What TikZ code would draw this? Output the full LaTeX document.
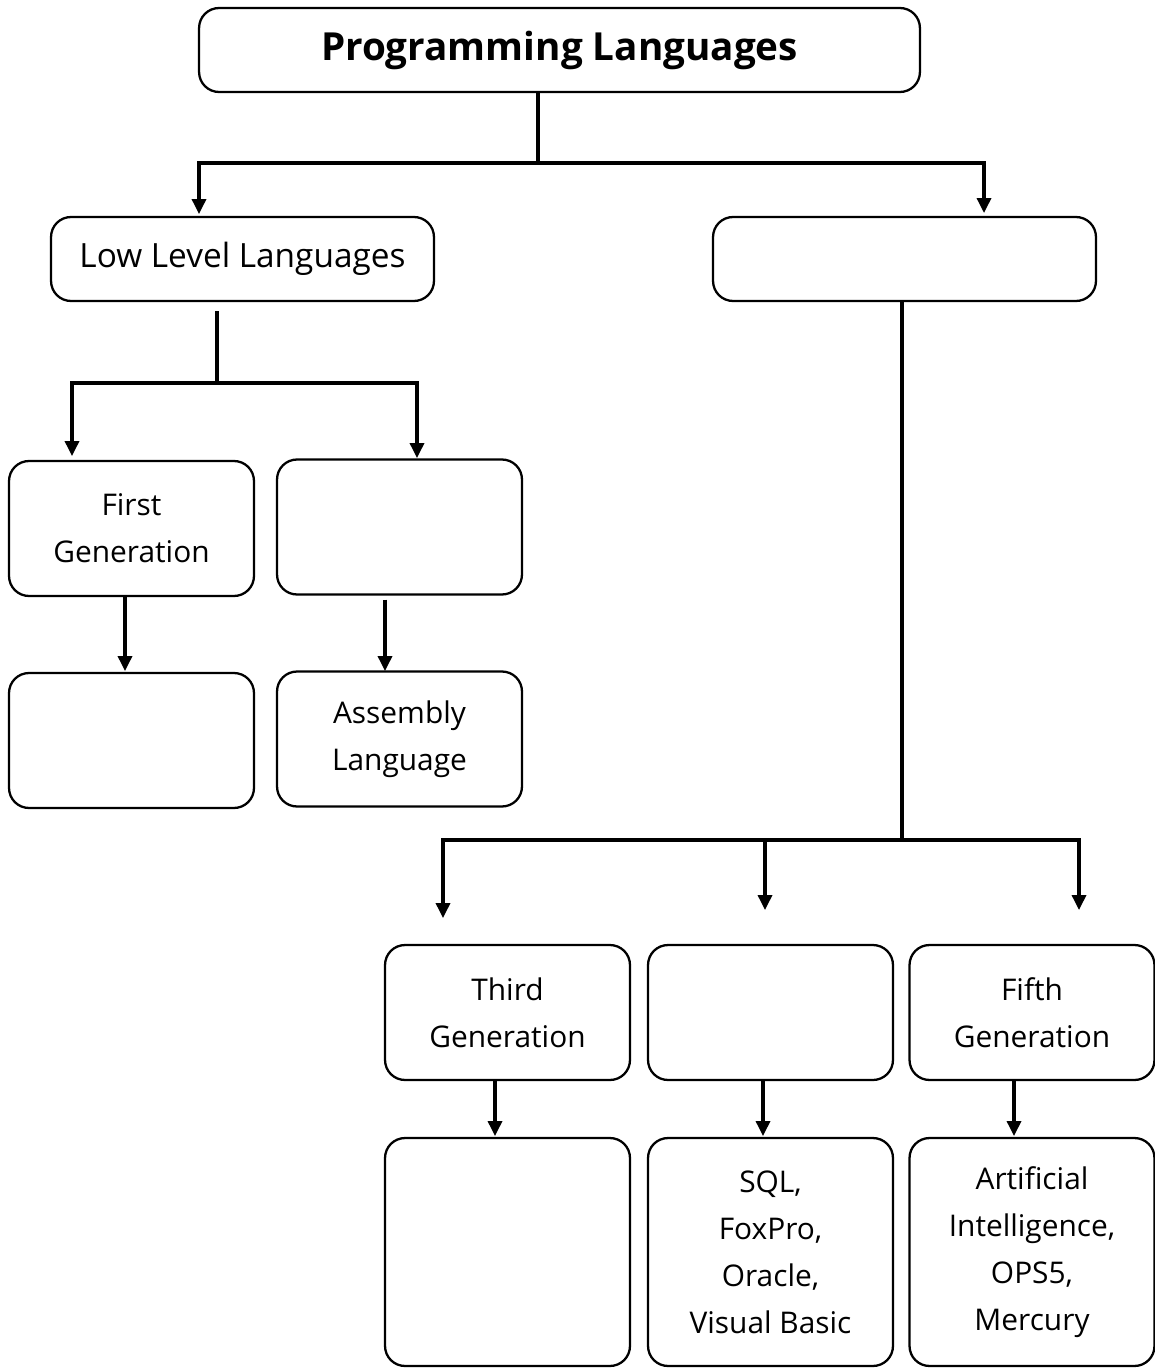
\documentclass[tikz,border=0pt]{standalone}
\usepackage{fontspec}
\setmainfont{Open Sans}
\usepackage{tikz}
\usetikzlibrary{arrows.meta,positioning,calc}

\begin{document}
\begin{tikzpicture}[x=0.02cm, y=-0.02cm,
  box/.style={draw, rounded corners=0.4cm, line width=1.3pt, align=center, inner sep=0pt,
    font=\fontsize{17}{26.7}\selectfont},
  wide/.style={box, minimum width=7.66cm, minimum height=1.68cm, font=\fontsize{19}{22}\selectfont},
  gen/.style={box, minimum width=4.9cm, minimum height=2.7cm},
  lang/.style={box, minimum width=4.9cm, minimum height=4.56cm},
  conn/.style={line width=1.8pt},
  arr/.style={conn, -{Triangle[length=8.5pt,width=8pt]}}]
\useasboundingbox (0,0) rectangle (1154,1368);
% top level
\node[box, minimum width=14.42cm, minimum height=1.68cm,
  font=\fontsize{22}{26}\selectfont\bfseries] (root) at (559.5,50) {Programming Languages};
\node[wide] (low) at (242.5,259) {Low Level Languages};
\node[wide] (high) at (904.5,259) {};
% low level branch
\node[gen] (first) at (131.5,528.5) {First\\Generation};
\node[gen] (second) at (399.5,527) {};
\node[gen] (machine) at (131.5,740.5) {};
\node[gen] (assembly) at (399.5,739) {Assembly\\Language};
% high level branch
\node[gen] (third) at (507.5,1012.5) {Third\\Generation};
\node[gen] (fourth) at (770.5,1012.5) {};
\node[gen] (fifth) at (1032,1012.5) {Fifth\\Generation};
\node[lang] (thirdlang) at (507.5,1252) {};
\node[lang] (fourthlang) at (770.5,1252) {SQL,\\FoxPro,\\Oracle,\\Visual Basic};
\node[lang] (fifthlang) at (1032,1252) {Artificial\\Intelligence,\\OPS5,\\Mercury};
% root split
\coordinate (r0) at (538,163);
\coordinate (r1) at (199,214);
\coordinate (r2) at (984,213);
\draw[conn] (root.south -| r0) -- (r0);
\draw[arr] (r0) -| (r1);
\draw[arr] (r0) -| (r2);
% low level split
\coordinate (l0) at (217,383);
\coordinate (l1) at (72,456);
\coordinate (l2) at (417,458);
\draw[conn] ([yshift=-0.18cm]low.south -| l0) -- (l0);
\draw[arr] (l0) -| (l1);
\draw[arr] (l0) -| (l2);
\coordinate (f1) at (125,671);
\coordinate (f2) at (385,671);
\draw[arr] (first.south -| f1) -- (f1);
\draw[arr] ([yshift=-0.08cm]second.south -| f2) -- (f2);
% high level split
\coordinate (h0) at (902,840);
\coordinate (h1) at (443,918);
\coordinate (h2) at (765,910);
\coordinate (h3) at (1079,910);
\draw[conn] (high.south -| h0) -- (h0);
\draw[arr] (h0) -| (h1);
\draw[arr] (h0) -| (h3);
\draw[arr] (h0 -| h2) -- (h2);
\coordinate (g1) at (495,1136);
\coordinate (g2) at (763,1136);
\coordinate (g3) at (1014,1136);
\draw[arr] (third.south -| g1) -- (g1);
\draw[arr] (fourth.south -| g2) -- (g2);
\draw[arr] (fifth.south -| g3) -- (g3);
\end{tikzpicture}
\end{document}
